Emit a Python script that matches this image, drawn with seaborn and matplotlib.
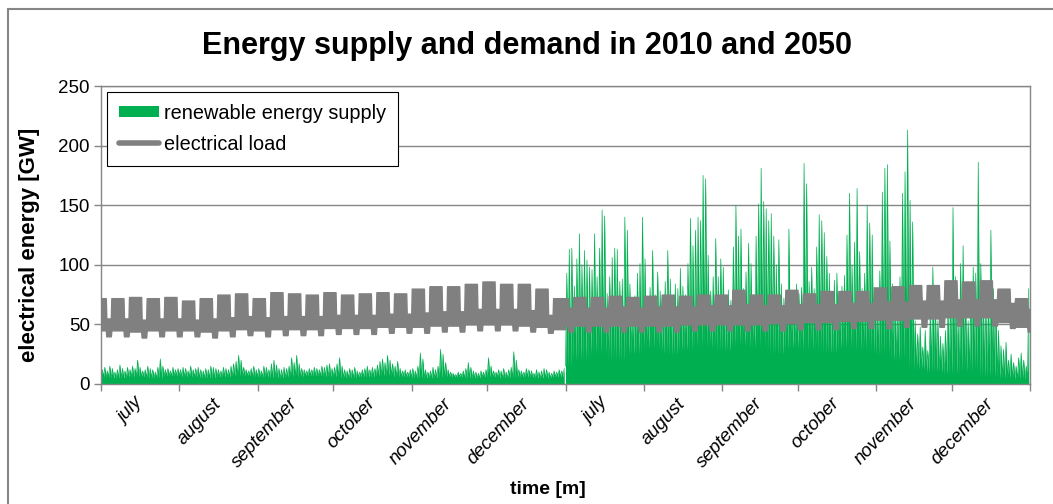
#!/usr/bin/env python
# coding: utf-8
# Energy supply and demand in 2010 and 2050 (half-year each)

import numpy as np
import pandas as pd
import matplotlib
matplotlib.use("Agg")
import matplotlib.pyplot as plt
from matplotlib.patches import Patch
from matplotlib.lines import Line2D
import seaborn as sns

# %% data

months = ["july", "august", "september", "october", "november", "december"]
month_days = [31, 31, 30, 31, 30, 31]

# daily peak of renewable supply [GW], one list per month
res_peak_2010 = [
    [12, 14, 11, 15, 13, 10, 12, 16, 13, 11, 14, 12, 15, 13, 20, 14, 11, 12, 15, 13, 12, 10, 14, 21, 15, 12, 13, 11, 14, 12, 13],
    [12, 14, 13, 11, 15, 12, 13, 14, 12, 11, 13, 12, 15, 14, 13, 12, 11, 14, 13, 12, 15, 17, 19, 24, 20, 14, 12, 11, 13, 15, 12],
    [13, 11, 15, 14, 12, 17, 20, 16, 13, 12, 14, 13, 15, 22, 18, 24, 17, 13, 12, 11, 13, 12, 14, 13, 12, 15, 14, 16, 17, 13],
    [14, 17, 22, 15, 12, 11, 13, 12, 14, 11, 10, 12, 13, 15, 12, 14, 13, 16, 19, 21, 18, 24, 20, 17, 15, 19, 13, 11, 12, 10, 12],
    [13, 11, 15, 26, 21, 12, 10, 11, 14, 12, 15, 29, 25, 18, 12, 10, 9, 8, 10, 9, 11, 13, 18, 14, 11, 10, 9, 11, 10, 12],
    [22, 15, 11, 10, 12, 11, 13, 10, 12, 14, 27, 20, 12, 11, 10, 13, 12, 11, 9, 12, 10, 11, 13, 12, 10, 9, 11, 10, 12, 11, 13],
]
res_peak_2050 = [
    [93, 113, 114, 82, 105, 126, 100, 112, 104, 98, 96, 126, 90, 114, 146, 141, 76, 90, 106, 114, 113, 86, 88, 140, 129, 84, 68, 74, 93, 101, 140],
    [105, 72, 81, 112, 75, 94, 78, 70, 86, 112, 88, 72, 84, 80, 97, 82, 75, 101, 139, 116, 129, 140, 137, 175, 172, 108, 78, 90, 122, 90, 105],
    [98, 72, 79, 70, 115, 150, 124, 130, 80, 94, 118, 101, 75, 124, 151, 181, 153, 147, 137, 143, 124, 100, 121, 84, 72, 78, 130, 75, 70, 84],
    [76, 81, 185, 168, 86, 98, 80, 115, 142, 137, 127, 107, 93, 70, 87, 93, 75, 82, 91, 125, 160, 100, 119, 164, 111, 80, 93, 150, 135, 125, 81],
    [70, 95, 161, 181, 184, 120, 84, 65, 73, 90, 160, 178, 213, 154, 136, 53, 42, 48, 31, 45, 28, 60, 98, 70, 53, 40, 34, 45, 65, 75],
    [148, 90, 53, 101, 116, 70, 53, 76, 98, 93, 186, 101, 80, 65, 70, 129, 80, 65, 45, 32, 29, 35, 20, 25, 18, 15, 22, 26, 20, 15, 80],
]

# night trough of renewable supply per calendar week [GW]
res_low_2010 = [6, 5, 6, 5, 7, 6, 5, 6, 7, 6, 5, 6, 7, 6, 5, 6, 7, 6, 5, 5, 6, 5, 6, 5, 6, 5, 6]
res_low_2050 = [15, 20, 25, 20, 25, 30, 25, 28, 30, 28, 32, 30, 25, 30, 28, 26, 30, 28, 25, 20, 12, 10, 8, 10, 6, 5, 4]

# electrical load band per calendar week [GW]
load_wd_top_2010 = [72, 72, 73, 72, 73, 70, 72, 75, 76, 72, 77, 76, 75, 77, 75, 76, 77, 76, 80, 82, 82, 84, 86, 84, 84, 80, 72]
load_wd_bot_2010 = [45, 45, 44, 45, 45, 45, 44, 45, 46, 45, 46, 46, 46, 47, 47, 47, 48, 48, 48, 49, 49, 50, 50, 50, 49, 48, 46]
load_we_top_2010 = [55, 55, 54, 55, 55, 54, 55, 56, 57, 56, 57, 57, 57, 58, 58, 58, 59, 59, 60, 61, 61, 63, 63, 63, 62, 58, 55]
load_we_bot_2010 = [40, 40, 39, 40, 40, 40, 39, 40, 41, 40, 41, 41, 41, 42, 42, 42, 43, 43, 43, 44, 44, 45, 45, 45, 44, 43, 41]

load_wd_top_2050 = [72, 73, 73, 74, 73, 74, 75, 74, 75, 75, 79, 75, 75, 79, 76, 78, 78, 78, 81, 82, 83, 83, 87, 86, 87, 80, 72]
load_wd_bot_2050 = [49, 49, 49, 49, 49, 49, 49, 50, 50, 50, 50, 50, 51, 51, 52, 52, 53, 53, 54, 54, 55, 55, 56, 56, 56, 52, 48]
load_we_top_2050 = [64, 64, 64, 65, 64, 65, 65, 65, 66, 66, 67, 66, 66, 67, 67, 67, 68, 68, 69, 69, 70, 70, 71, 71, 71, 68, 63]
load_we_bot_2050 = [44, 44, 44, 44, 44, 44, 44, 45, 45, 45, 45, 45, 45, 46, 46, 46, 47, 47, 47, 48, 48, 48, 49, 49, 49, 47, 44]

GREEN = "#00B050"
GREY = "#808080"
FRAME = "#868686"

# %% build series

def buildHalf(year, offset, peaks, lows, wdTop, wdBot, weTop, weBot):
    days = pd.date_range(f"{year}-07-01", f"{year}-12-31", freq="D")
    week = days.isocalendar().week.to_numpy(dtype=int)
    week = week - week[0]
    weekend = days.dayofweek.to_numpy() >= 5
    t = offset + np.arange(len(days))

    peak = np.concatenate([np.asarray(m, dtype=float) for m in peaks])
    low = np.asarray(lows, dtype=float)[week]
    supply = pd.DataFrame({"t": np.column_stack([t, t + 0.5]).ravel(),
                           "supply": np.column_stack([low, peak]).ravel()})

    top = np.where(weekend, np.asarray(weTop)[week], np.asarray(wdTop)[week])
    bot = np.where(weekend, np.asarray(weBot)[week], np.asarray(wdBot)[week])
    # each day holds its level from start to end of the day
    load = pd.DataFrame({"t": np.column_stack([t + 0.1, t + 0.9]).ravel(),
                         "top": np.repeat(top, 2), "bot": np.repeat(bot, 2)})
    return supply, load

sup10, load10 = buildHalf(2010, 0, res_peak_2010, res_low_2010,
                          load_wd_top_2010, load_wd_bot_2010, load_we_top_2010, load_we_bot_2010)
sup50, load50 = buildHalf(2050, sum(month_days), res_peak_2050, res_low_2050,
                          load_wd_top_2050, load_wd_bot_2050, load_we_top_2050, load_we_bot_2050)

# %% plot

sns.set_theme(style="white")
plt.rcParams["font.family"] = ["Liberation Sans", "DejaVu Sans"]
plt.rcParams["text.color"] = "black"
plt.rcParams["axes.labelcolor"] = "black"
plt.rcParams["xtick.color"] = "black"
plt.rcParams["ytick.color"] = "black"

W, H = 1053, 504
fig = plt.figure(figsize=(W / 100, H / 100), dpi=100)
fig.patch.set_facecolor("white")
ax = fig.add_axes([101 / W, 120 / H, 929 / W, 298 / H])

for sup, load in [(sup10, load10), (sup50, load50)]:
    ax.fill_between(sup.t, 0, sup.supply, color=GREEN, lw=0, zorder=2)
    sns.lineplot(data=sup, x="t", y="supply", color=GREEN, lw=0.5, ax=ax,
                 estimator=None, zorder=2)
    ax.fill_between(load.t, load.bot, load.top, color=GREY, lw=1.0,
                    edgecolor=GREY, zorder=3)

ax.set_xlim(0, 2 * sum(month_days))
ax.set_ylim(0, 250)
ax.set_yticks(np.arange(0, 251, 50))

bounds = np.cumsum([0] + month_days * 2)
mids = (bounds[:-1] + bounds[1:]) / 2
ax.set_xticks(bounds)
ax.set_xticklabels([])
ax.set_xticks(mids, minor=True)
ax.set_xticklabels(months * 2, minor=True, rotation=47, ha="right", va="center",
                   rotation_mode="anchor", fontstyle="italic", fontsize=13.5)
ax.tick_params(axis="x", which="minor", length=0, pad=12, labelcolor="black")
ax.tick_params(axis="both", which="major", length=5, width=1, color=FRAME,
               direction="out", bottom=True, left=True)
ax.tick_params(axis="y", labelsize=13.5, pad=3, labelcolor="black")

ax.set_axisbelow(True)
ax.yaxis.grid(True, color=FRAME, lw=1)
ax.xaxis.grid(False)
for sp in ax.spines.values():
    sp.set_color(FRAME)
    sp.set_linewidth(1)
ax.set_xlabel("")
ax.set_ylabel("")

handles = [Patch(facecolor=GREEN, edgecolor="none", label="renewable energy supply"),
           Line2D([0], [0], color=GREY, lw=4, label="electrical load")]
leg = ax.legend(handles=handles, loc="upper left", bbox_to_anchor=(0.0065, 0.98),
                borderaxespad=0, frameon=True, fancybox=False, framealpha=1,
                edgecolor="black", fontsize=14.3, handlelength=2.0,
                handleheight=0.5, handletextpad=0.25, labelspacing=0.6,
                borderpad=0.6)
leg.get_frame().set_linewidth(0.8)
leg.set_zorder(5)

fig.text(0.5, 1 - 46 / H, "Energy supply and demand in 2010 and 2050",
         ha="center", va="center", fontsize=22, fontweight="bold")
fig.text(30 / W, 1 - 245 / H, "electrical energy [GW]", rotation=90,
         ha="center", va="center", fontsize=16, fontweight="bold")
fig.text(548 / W, 1 - 490 / H, "time [m]", ha="center", va="center",
         fontsize=14, fontweight="bold")

# outer chart border
fig.add_artist(Line2D([8 / W, 8 / W], [0, 1 - 9 / H], transform=fig.transFigure,
                      color=FRAME, lw=1.5))
fig.add_artist(Line2D([8 / W, 1], [1 - 9 / H, 1 - 9 / H], transform=fig.transFigure,
                      color=FRAME, lw=1.5))

fig.savefig("out.png", dpi=100, facecolor="white")
